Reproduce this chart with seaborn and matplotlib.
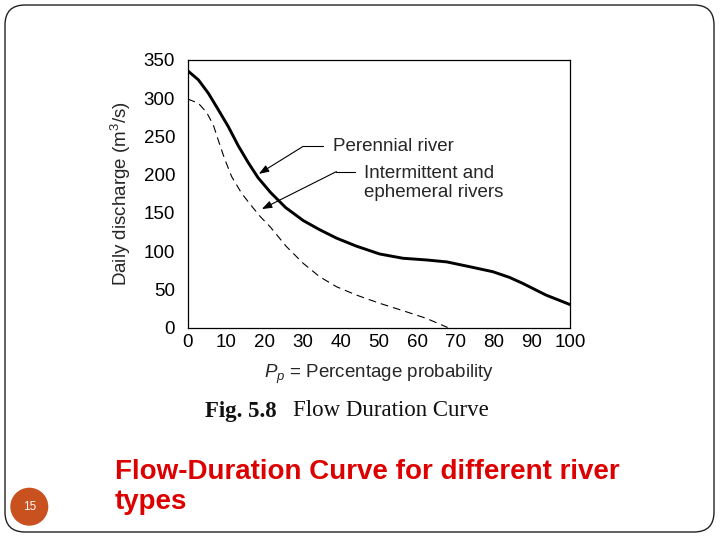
import matplotlib
matplotlib.use("Agg")
import matplotlib.pyplot as plt
from matplotlib.patches import FancyBboxPatch, Circle
import pandas as pd
import seaborn as sns

# Flow duration curves (x = % probability, y = m3/s)
perennial_x = [0, 2.8, 5.4, 8.0, 10.6, 13.2, 15.8, 18.4, 21.7, 25.6, 30.2, 34.5,
               38.9, 44.1, 50.2, 56.3, 62.4, 67.8, 73.7, 79.8, 84.1, 87.6, 93.7, 100]
perennial_y = [336, 324, 306.5, 285, 263, 238, 216, 196, 176.5, 157, 140, 128,
               117, 106.5, 96.2, 90.6, 88.4, 85.8, 79.6, 73, 65.7, 57.8, 42.5, 30]

intermittent_x = [0, 2.8, 5.0, 6.7, 8.0, 9.7, 11.5, 14.1, 16.7, 19.0, 21.7, 25.8,
                  30.2, 34.5, 38.9, 44.1, 50.2, 56.3, 62.4, 68]
intermittent_y = [299, 293.4, 281, 265, 245, 220, 197.4, 175.6, 159, 145, 131, 106,
                  84, 66.5, 53.4, 42.5, 31.7, 22, 12, 0]

x_ticks = list(range(0, 101, 10))
y_ticks = list(range(0, 351, 50))

# annotation anchors: arrow tip, elbow, end of the short horizontal, text spot
per_tip, per_elbow, per_hend, per_text = (18.6, 201), (30.2, 237), (35.3, 237), (37.9, 237)
int_tip, int_elbow, int_hend, int_text = (19.4, 155), (38.9, 204), (43.7, 204), (46.0, 189)

per_df = pd.DataFrame({"p": perennial_x, "q": perennial_y})
int_df = pd.DataFrame({"p": intermittent_x, "q": intermittent_y})

sns.set_style("white")
plt.rcParams["font.family"] = ["Liberation Sans", "DejaVu Sans"]
plt.rcParams["mathtext.fontset"] = "custom"
plt.rcParams["mathtext.it"] = "Liberation Sans:italic"
plt.rcParams["mathtext.rm"] = "Liberation Sans"

fs = 13.5

fig = plt.figure(figsize=(7.2, 5.4), dpi=100)

# slide background in pixel units
bg = fig.add_axes([0, 0, 1, 1])
bg.set_xlim(0, 720)
bg.set_ylim(540, 0)
bg.axis("off")
bg.add_patch(FancyBboxPatch((5, 5), 709, 527, boxstyle="round,pad=0,rounding_size=20",
                            fill=False, ec="#222222", lw=1))
bg.add_patch(Circle((29.3, 506.7), 18.3, color="#C9501F"))
bg.text(29.3, 507, "15", color="white", fontsize=8.5, ha="center", va="center")
bg.text(277, 411, "Fig. 5.8", ha="right", va="center", fontsize=16.5,
        weight="bold", family=["Liberation Serif", "DejaVu Serif"], color="#111111")
bg.text(293, 411, "Flow Duration Curve", ha="left", va="center", fontsize=16.5,
        family=["Liberation Serif", "DejaVu Serif"], color="#111111")
bg.text(115, 487, "Flow-Duration Curve for different river\ntypes", ha="left",
        va="center", fontsize=20, weight="bold", color="#DD0000", linespacing=1.2)

# chart
ax = fig.add_axes([187.7 / 720, 1 - 327.5 / 540, (570 - 187.7) / 720, (327.5 - 60) / 540])
sns.lineplot(data=per_df, x="p", y="q", ax=ax, color="black", lw=2.1)
sns.lineplot(data=int_df, x="p", y="q", ax=ax, color="black", lw=0.8,
             linestyle=(0, (7, 4.5)))

ax.set_xlim(0, 100)
ax.set_ylim(0, 350)
ax.set_xticks(x_ticks)
ax.set_yticks(y_ticks)
ax.tick_params(axis="both", direction="in", length=7, width=0.8, colors="#222222",
               labelsize=fs, labelcolor="black")
ax.tick_params(axis="x", pad=5)
ax.tick_params(axis="y", pad=9)
for s in ax.spines.values():
    s.set_linewidth(0.9)
    s.set_color("black")
ax.set_xlabel(r"$P_p$ = Percentage probability", fontsize=fs, labelpad=8)
ax.set_ylabel("Daily discharge (m$^3$/s)", fontsize=fs, labelpad=8)

arrow = dict(arrowstyle="-|>,head_length=0.6,head_width=0.22", color="black",
             lw=0.8, shrinkA=0, shrinkB=0)
for tip, elbow, hend, pos, label in [
    (per_tip, per_elbow, per_hend, per_text, "Perennial river"),
    (int_tip, int_elbow, int_hend, int_text, "Intermittent and\nephemeral rivers"),
]:
    ax.annotate("", xy=tip, xytext=elbow, arrowprops=arrow)
    ax.plot([elbow[0], hend[0]], [elbow[1], hend[1]], color="black", lw=0.8)
    ax.text(pos[0], pos[1], label, ha="left", va="center", fontsize=fs,
            linespacing=1.15)

fig.savefig("out.png", dpi=100)
plt.close(fig)
